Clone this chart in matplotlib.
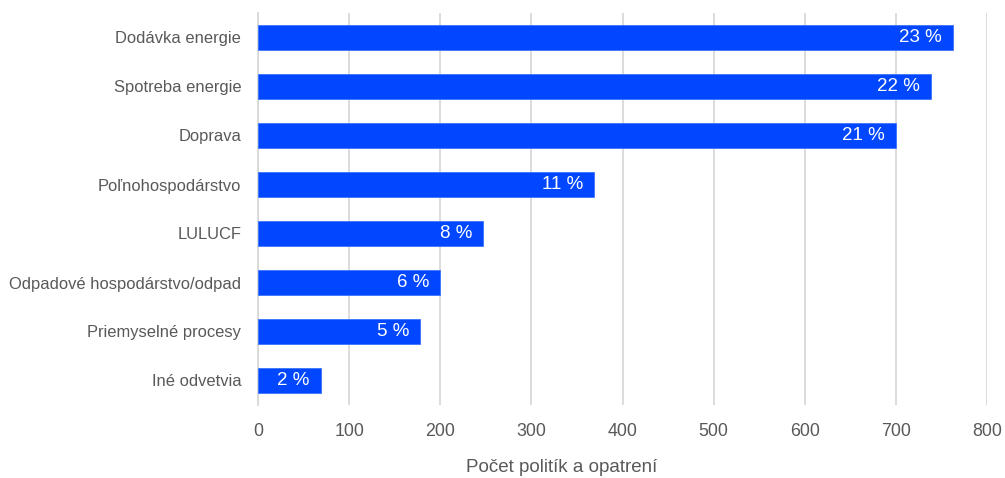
import numpy as np
import matplotlib
matplotlib.use('Agg')
import matplotlib.pyplot as plt

# data
categories = ['Dodávka energie', 'Spotreba energie', 'Doprava', 'Poľnohospodárstvo',
              'LULUCF', 'Odpadové hospodárstvo/odpad', 'Priemyselné procesy', 'Iné odvetvia']
counts = [763, 738, 700, 369, 247, 200, 178, 69]
shares = ['23 %', '22 %', '21 %', '11 %', '8 %', '6 %', '5 %', '2 %']
xticks = [0, 100, 200, 300, 400, 500, 600, 700, 800]

plt.rcParams['font.family'] = ['Liberation Sans', 'DejaVu Sans']
grey = '#595959'

fig = plt.figure(figsize=(10.05, 4.78), dpi=100)
ax = fig.add_axes([258 / 1005, 1 - 405 / 478, (987 - 258) / 1005, (405 - 13) / 478])

y = np.arange(len(categories))
ax.barh(y, counts, height=0.5, color='#0047ff', edgecolor='#3d74ff', linewidth=0.6, zorder=3)

# percentage labels inside the bar ends
for yi, c, s in zip(y, counts, shares):
    ax.annotate(s, xy=(c, yi), xytext=(-8, 0), textcoords='offset points',
                ha='right', va='center', color='white', fontsize=13.5, zorder=4)

ax.set_ylim(len(categories) - 0.5, -0.5)
ax.set_xlim(0, 800)
ax.set_yticks(y)
ax.set_yticklabels(categories, fontsize=11.9, color=grey)
ax.set_xticks(xticks)
ax.set_xticklabels([str(t) for t in xticks], fontsize=12.8, color=grey)

ax.tick_params(axis='both', length=0)
ax.tick_params(axis='y', pad=12)
ax.tick_params(axis='x', pad=13)
ax.grid(axis='x', color='#d9d9d9', linewidth=1.3, zorder=0)
for sp in ['top', 'right', 'bottom']:
    ax.spines[sp].set_visible(False)
ax.spines['left'].set_color('#d9d9d9')
ax.spines['left'].set_linewidth(1.3)

fig.text(562 / 1005, 1 - 467 / 478, 'Počet politík a opatrení', ha='center', va='center',
         fontsize=13.5, color=grey)

fig.savefig('out.png', dpi=100)
